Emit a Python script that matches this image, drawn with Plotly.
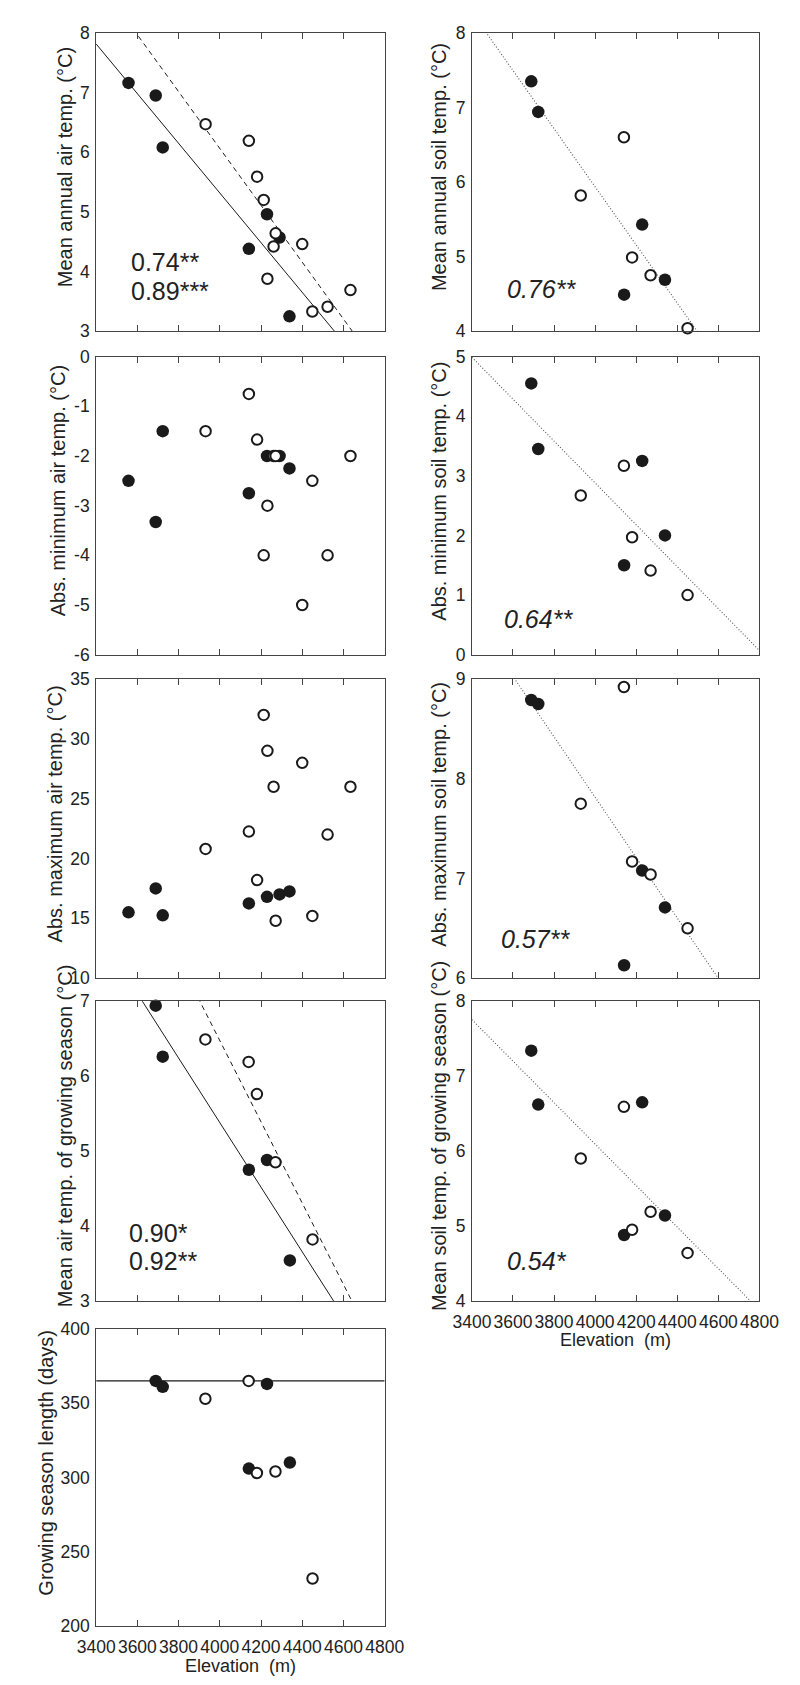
import numpy as np
import plotly.graph_objects as go

W, H = 800, 1685
FONT = "Liberation Sans, Arial, sans-serif"
INK = "#1a1a1a"
AXIS = "#444444"

# ---------------- data ----------------
elevation_range = [3400, 4800]
elevation_ticks = [3400, 3600, 3800, 4000, 4200, 4400, 4600, 4800]
elevation_labels = ["3400", "3600", "3800", "4000", "4200", "4400", "4600", "4800"]

# air-temperature sites (filled = closed symbols, open = open symbols)
air_elev_closed = [3557, 3689, 3723, 4141, 4229, 4290, 4338]
air_elev_open = [3931, 4141, 4181, 4213, 4231, 4261, 4271, 4400, 4449, 4523, 4634]

mean_air_closed = [7.16, 6.95, 6.08, 4.38, 4.96, 4.57, 3.25]
mean_air_open = [6.47, 6.19, 5.59, 5.20, 3.88, 4.42, 4.64, 4.46, 3.33, 3.41, 3.69]

min_air_closed = [-2.5, -3.33, -1.5, -2.75, -2.0, -2.0, -2.25]
min_air_open = [-1.5, -0.75, -1.67, -4.0, -3.0, -2.0, -2.0, -5.0, -2.5, -4.0, -2.0]

max_air_closed = [15.5, 17.5, 15.25, 16.25, 16.8, 17.0, 17.25]
max_air_open = [20.8, 22.25, 18.2, 32.0, 29.0, 26.0, 14.8, 28.0, 15.2, 22.0, 26.0]

# soil / growing-season sites
soil_elev_closed = [3689, 3723, 4141, 4229, 4340]
soil_elev_open = [3930, 4140, 4180, 4270, 4450]

mean_soil_closed = [7.35, 6.94, 4.49, 5.43, 4.69]
mean_soil_open = [5.82, 6.60, 4.99, 4.75, 4.04]

min_soil_closed = [4.55, 3.45, 1.50, 3.25, 2.00]
min_soil_open = [2.67, 3.17, 1.97, 1.41, 1.00]

max_soil_closed = [8.79, 8.75, 6.13, 7.08, 6.71]
max_soil_open = [7.75, 8.92, 7.17, 7.04, 6.50]

gs_air_closed = [6.94, 6.26, 4.75, 4.88, 3.54]
gs_air_open = [6.49, 6.19, 5.76, 4.85, 3.82]

gs_soil_closed = [7.34, 6.62, 4.88, 6.65, 5.14]
gs_soil_open = [5.90, 6.59, 4.95, 5.19, 4.64]

gs_len_closed = [365, 361, 306, 363, 310]
gs_len_open = [353, 365, 303, 304, 232]
days_per_year = 365

# y tick values / labels
ticks_mean_air = [3, 4, 5, 6, 7, 8]
ticks_min_air = [0, -1, -2, -3, -4, -5, -6]
labels_min_air = ["0", "-1", "-2", "-3", "-4", "-5", "-6"]
ticks_max_air = [10, 15, 20, 25, 30, 35]
ticks_gs_air = [3, 4, 5, 6, 7]
ticks_gs_len = [200, 250, 300, 350, 400]
ticks_mean_soil = [4, 5, 6, 7, 8]
ticks_min_soil = [0, 1, 2, 3, 4, 5]
ticks_max_soil = [6, 7, 8, 9]
ticks_gs_soil = [4, 5, 6, 7, 8]

# correlation annotations
r_mean_air = ["0.74**", "0.89***"]
r_gs_air = ["0.90*", "0.92**"]
r_mean_soil = ["0.76**"]
r_min_soil = ["0.64**"]
r_max_soil = ["0.57**"]
r_gs_soil = ["0.54*"]

# ---------------- layout geometry ----------------
rows_px = [(15, 317), (342.7, 644.3), (669, 971.7), (995, 1298.3), (1326.7, 1627.3)]
cols_px = [(72.7, 376), (467.7, 770)]
TITLE_SHIFT_PX = 15


def ydom(r):
    t, b = rows_px[r]
    return [1 - b / H, 1 - t / H]


def xdom(c):
    l, r = cols_px[c]
    return [l / W, r / W]


panels = [
    dict(row=0, col=0, tx=40, title="Mean annual air temp. (°C)", yr=[3, 8], yt=ticks_mean_air, yl=None,
         cx=air_elev_closed, cy=mean_air_closed, ox=air_elev_open, oy=mean_air_open,
         fit="separate", r=r_mean_air, rpos=(3558, [4.16, 3.68]), italic=False, xl=False),
    dict(row=1, col=0, tx=32, title="Abs. minimum air temp. (°C)", yr=[-6, 0], yt=ticks_min_air, yl=labels_min_air,
         cx=air_elev_closed, cy=min_air_closed, ox=air_elev_open, oy=min_air_open,
         fit=None, r=None, xl=False),
    dict(row=2, col=0, tx=29, title="Abs. maximum air temp. (°C)", yr=[10, 35], yt=ticks_max_air, yl=None,
         cx=air_elev_closed, cy=max_air_closed, ox=air_elev_open, oy=max_air_open,
         fit=None, r=None, xl=False),
    dict(row=3, col=0, tx=40, title="Mean air temp. of growing season (°C)", yr=[3, 7], yt=ticks_gs_air, yl=None,
         cx=soil_elev_closed, cy=gs_air_closed, ox=soil_elev_open, oy=gs_air_open,
         fit="separate", r=r_gs_air, rpos=(3549, [3.90, 3.53]), italic=False, xl=False),
    dict(row=4, col=0, tx=20, title="Growing season length (days)", yr=[200, 400], yt=ticks_gs_len, yl=None,
         cx=soil_elev_closed, cy=gs_len_closed, ox=soil_elev_open, oy=gs_len_open,
         fit="hline", r=None, xl=True),
    dict(row=0, col=1, tx=433, title="Mean annual soil temp. (°C)", yr=[4, 8], yt=ticks_mean_soil, yl=None,
         cx=soil_elev_closed, cy=mean_soil_closed, ox=soil_elev_open, oy=mean_soil_open,
         fit="combined", r=r_mean_soil, rpos=(3562, [4.56]), italic=True, xl=False),
    dict(row=1, col=1, tx=433, title="Abs. minimum soil temp. (°C)", yr=[0, 5], yt=ticks_min_soil, yl=None,
         cx=soil_elev_closed, cy=min_soil_closed, ox=soil_elev_open, oy=min_soil_open,
         fit="combined", r=r_min_soil, rpos=(3545, [0.60]), italic=True, xl=False),
    dict(row=2, col=1, tx=433, title="Abs. maximum soil temp. (°C)", yr=[6, 9], yt=ticks_max_soil, yl=None,
         cx=soil_elev_closed, cy=max_soil_closed, ox=soil_elev_open, oy=max_soil_open,
         fit="combined", r=r_max_soil, rpos=(3531, [6.39]), italic=True, xl=False),
    dict(row=3, col=1, tx=433, title="Mean soil temp. of growing season (°C)", yr=[4, 8], yt=ticks_gs_soil, yl=None,
         cx=soil_elev_closed, cy=gs_soil_closed, ox=soil_elev_open, oy=gs_soil_open,
         fit="combined", r=r_gs_soil, rpos=(3563, [4.53]), italic=True, xl=True),
]

fig = go.Figure()
layout = dict(
    width=W, height=H, autosize=False,
    margin=dict(l=0, r=0, t=0, b=0),
    paper_bgcolor="white", plot_bgcolor="white",
    showlegend=False,
    font=dict(family=FONT, color="#222222", size=17),
)
annotations = []
n = len(panels)

line_x = np.array(elevation_range, dtype=float)


def fit_line(x, y):
    k, b = np.polyfit(np.array(x, float), np.array(y, float), 1)
    return k * line_x + b


for i, p in enumerate(panels, start=1):
    xs = "" if i == 1 else str(i)
    xa, ya = f"x{xs}" if xs else "x", f"y{xs}" if xs else "y"
    tickfont = dict(family=FONT, size=17.5, color="#222222")
    layout[f"xaxis{xs}"] = dict(
        domain=xdom(p["col"]), range=elevation_range, anchor=ya,
        tickmode="array", tickvals=elevation_ticks, ticktext=elevation_labels,
        showticklabels=p["xl"], tickangle=0, tickfont=tickfont, ticklabelstandoff=5,
        ticks="inside", ticklen=6, tickwidth=1, tickcolor=AXIS,
        showline=True, linecolor=AXIS, linewidth=1, mirror="allticks",
        showgrid=False, zeroline=False, fixedrange=True,
    )
    layout[f"yaxis{xs}"] = dict(
        domain=ydom(p["row"]), range=p["yr"], anchor=xa,
        tickmode="array", tickvals=p["yt"],
        ticktext=p["yl"] if p["yl"] else [str(v) for v in p["yt"]],
        tickfont=tickfont, ticks="", ticklabelstandoff=2,
        showline=True, linecolor=AXIS, linewidth=1, mirror=True,
        showgrid=False, zeroline=False, fixedrange=True,
    )
    ov = str(i + n)
    layout[f"yaxis{ov}"] = dict(
        overlaying=ya, anchor=xa, side="right", range=p["yr"],
        tickmode="array", tickvals=p["yt"], showticklabels=False,
        ticks="inside", ticklen=6, tickwidth=1, tickcolor=AXIS,
        showline=False, showgrid=False, zeroline=False, fixedrange=True,
    )

    # lines
    if p["fit"] == "separate":
        fig.add_trace(go.Scatter(x=line_x, y=fit_line(p["cx"], p["cy"]), mode="lines",
                                 line=dict(color=INK, width=1), xaxis=xa, yaxis=ya, hoverinfo="skip"))
        fig.add_trace(go.Scatter(x=line_x, y=fit_line(p["ox"], p["oy"]), mode="lines",
                                 line=dict(color=INK, width=1, dash="5px,4px"), xaxis=xa, yaxis=ya,
                                 hoverinfo="skip"))
    elif p["fit"] == "combined":
        fig.add_trace(go.Scatter(x=line_x, y=fit_line(p["cx"] + p["ox"], p["cy"] + p["oy"]), mode="lines",
                                 line=dict(color="#555555", width=1.1, dash="1px,2px"), xaxis=xa, yaxis=ya,
                                 hoverinfo="skip"))
    elif p["fit"] == "hline":
        fig.add_trace(go.Scatter(x=line_x, y=[days_per_year] * len(line_x), mode="lines",
                                 line=dict(color=INK, width=1.2), xaxis=xa, yaxis=ya, hoverinfo="skip"))

    # points
    fig.add_trace(go.Scatter(x=p["cx"], y=p["cy"], mode="markers", xaxis=xa, yaxis=ya,
                             marker=dict(symbol="circle", size=12.5, color=INK, line=dict(width=0)),
                             cliponaxis=False))
    fig.add_trace(go.Scatter(x=p["ox"], y=p["oy"], mode="markers", xaxis=xa, yaxis=ya,
                             marker=dict(symbol="circle", size=10.5, color="white",
                                         line=dict(width=2, color=INK)),
                             cliponaxis=False))

    # y title
    t, b = rows_px[p["row"]]
    annotations.append(dict(
        text=p["title"], xref="paper", yref="paper", x=p["tx"] / W,
        y=1 - ((t + b) / 2 - TITLE_SHIFT_PX) / H,
        xanchor="center", yanchor="middle", textangle=-90, showarrow=False,
        font=dict(family=FONT, size=20, color="#222222"),
    ))

    # x title
    if p["xl"]:
        xd = xdom(p["col"])
        annotations.append(dict(
            text="Elevation  (m)", xref="paper", yref="paper", x=(xd[0] + xd[1]) / 2, y=1 - (b + 40) / H,
            xanchor="center", yanchor="middle", showarrow=False,
            font=dict(family=FONT, size=18, color="#222222"),
        ))

    # r annotations
    if p["r"]:
        rx, rys = p["rpos"]
        for txt, ry in zip(p["r"], rys):
            annotations.append(dict(
                text=f"<i>{txt}</i>" if p["italic"] else txt, xref=xa, yref=ya, x=rx, y=ry,
                xanchor="left", yanchor="middle", showarrow=False,
                font=dict(family=FONT, size=25, color="#222222"),
            ))

layout["annotations"] = annotations
fig.update_layout(**layout)
fig.write_html("out.html")
